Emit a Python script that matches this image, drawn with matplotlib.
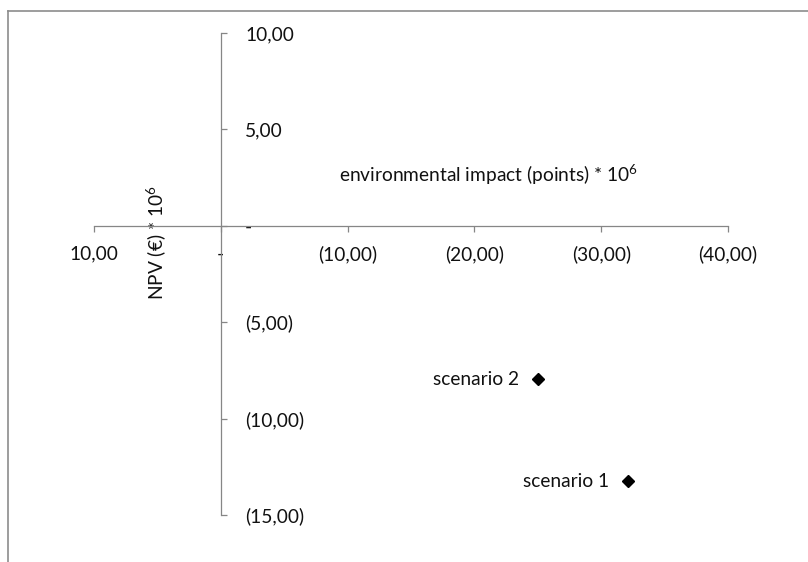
import matplotlib.pyplot as plt
from matplotlib.lines import Line2D

plt.rcParams["font.family"] = ["Lato", "DejaVu Sans"]
plt.rcParams["mathtext.fontset"] = "custom"
plt.rcParams["mathtext.rm"] = "Lato"
plt.rcParams["mathtext.it"] = "Lato"

# data
scenarios = ["scenario 1", "scenario 2"]
env_impact = [-32.1, -25.0]
npv = [-13.25, -7.95]

x_ticks = [10, 0, -10, -20, -30, -40]
x_labels = ["10,00", "-", "(10,00)", "(20,00)", "(30,00)", "(40,00)"]
y_ticks = [10, 5, 0, -5, -10, -15]
y_labels = ["10,00", "5,00", "-", "(5,00)", "(10,00)", "(15,00)"]

AXIS_COLOR = "#868686"
TEXT_COLOR = "#111111"
FS = 13.8

fig = plt.figure(figsize=(8.08, 5.62), dpi=100)
ax = fig.add_axes([94 / 808, 1 - 515 / 562, 634 / 808, 482 / 562])

ax.plot(env_impact, npv, linestyle="none", marker="D", markersize=6.2, color="black")
for name, x, y in zip(scenarios, env_impact, npv):
    ax.annotate(name, (x, y), xytext=(-13.5, 0), textcoords="offset points",
                ha="right", va="center", fontsize=FS, color=TEXT_COLOR)

ax.set_xlim(10, -40)
ax.set_ylim(-15, 10)

ax.spines["left"].set_position(("data", 0))
ax.spines["bottom"].set_position(("data", 0))
ax.spines["right"].set_visible(False)
ax.spines["top"].set_visible(False)
for s in ["left", "bottom"]:
    ax.spines[s].set_color(AXIS_COLOR)
    ax.spines[s].set_linewidth(0.9)

ax.set_xticks(x_ticks)
ax.set_xticklabels(x_labels)
ax.set_yticks(y_ticks)
ax.set_yticklabels(y_labels)
ax.tick_params(axis="x", direction="out", length=4.5, width=0.9, color=AXIS_COLOR,
               pad=9.5, labelsize=FS, labelcolor=TEXT_COLOR)
ax.tick_params(axis="y", direction="in", length=4.5, width=0.9, color=AXIS_COLOR,
               pad=-17.5, labelsize=FS, labelcolor=TEXT_COLOR)
for lab in ax.get_yticklabels():
    lab.set_horizontalalignment("left")

ax.set_xlabel("environmental impact (points) * 10$^6$", fontsize=FS, color=TEXT_COLOR, va="center")
ax.xaxis.set_label_coords(0.623, 0.705)
ax.set_ylabel("NPV (€) * 10$^6$", fontsize=FS, color=TEXT_COLOR, va="center")
ax.yaxis.set_label_coords(0.098, 0.566)

# chart border (cut off on the right and bottom)
fig.add_artist(Line2D([8 / 808, 1], [1 - 11 / 562] * 2, color="#8c8c8c", lw=1.2))
fig.add_artist(Line2D([8 / 808] * 2, [0, 1 - 11 / 562], color="#8c8c8c", lw=1.2))

fig.savefig("out.png", dpi=100)
